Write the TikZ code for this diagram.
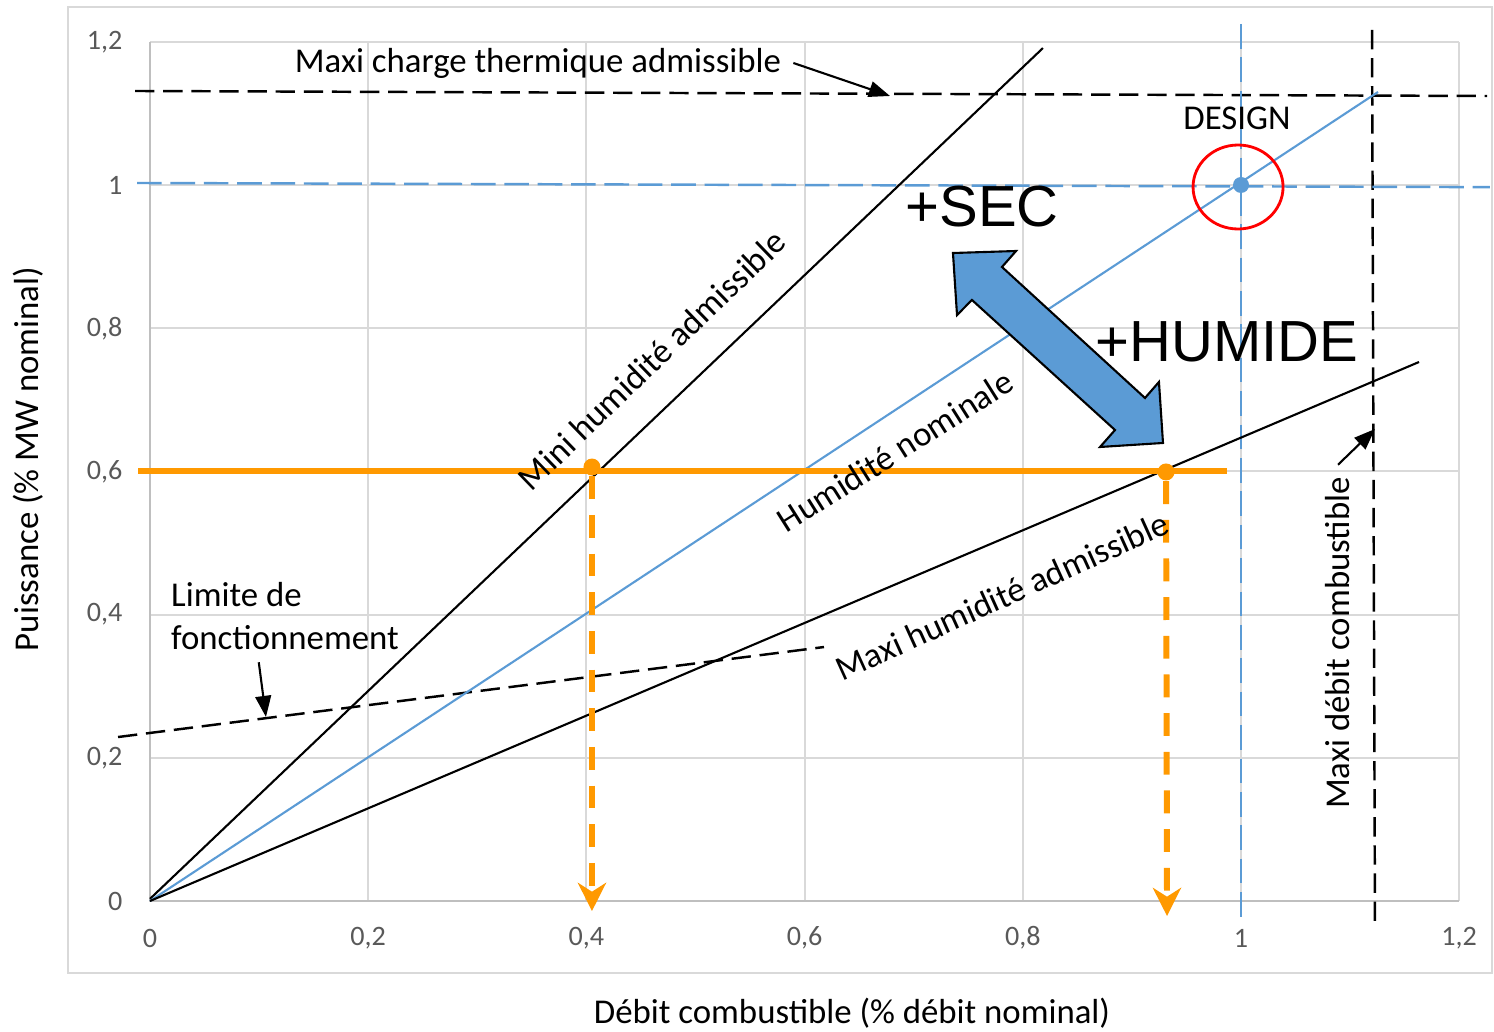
\documentclass[tikz,border=0pt]{standalone}
\usepackage{fontspec}
\setmainfont{Carlito}
\newfontfamily\arialfont{Liberation Sans}
\usetikzlibrary{arrows.meta}
\definecolor{chartblue}{HTML}{5B9BD5}
\definecolor{chartorange}{HTML}{FF9900}
\definecolor{gridgray}{HTML}{D9D9D9}
\definecolor{axisgray}{HTML}{BFBFBF}
\definecolor{tickgray}{HTML}{595959}
\begin{document}
\begin{tikzpicture}[x=10.91cm, y=7.16cm,
  grid line/.style={draw=gridgray, line width=0.6pt},
  tick label/.style={text=tickgray, font=\fontsize{8}{9}\selectfont, inner sep=0pt},
  annot/.style={font=\fontsize{9.9}{12.3}\selectfont},
  big label/.style={font=\arialfont\fontsize{16.5}{20}\selectfont},
  limit dash/.style={dash pattern=on 5.5pt off 2.5pt, line width=0.7pt},
  design dash/.style={chartblue, dash pattern=on 7pt off 2.5pt, line width=0.7pt},
  note arrow/.style={-{Triangle[length=6pt,width=4.5pt]}, line width=0.6pt},
  orange dot/.style={circle, fill=chartorange, inner sep=0pt, minimum size=0.17cm},
  drop arrow/.style={chartorange, line width=1.7pt, dash pattern=on 6.5pt off 4.5pt, -{Stealth[length=8pt,width=8pt,inset=2.5pt]}}]
  \useasboundingbox (-0.1375,-0.1816) rectangle (1.2319,1.2584);
  %\draw[red] (-0.1375,-0.1816) rectangle (1.2319,1.2584);

\draw[gridgray, line width=0.6pt] (-0.0752,-0.1006) rectangle (1.230,1.2486);
\foreach \i in {1,...,6} {
  \draw[grid line] (0.2*\i,0) -- (0.2*\i,1.2);
  \draw[grid line] (0,0.2*\i) -- (1.2,0.2*\i);
}
\draw[axisgray, line width=0.7pt] (0,1.2) -- (0,0) -- (1.2,0);
\foreach \i/\lab in {0/0,1/{0,2},2/{0,4},3/{0,6},4/{0,8},5/1,6/{1,2}} {
  \node[tick label, anchor=east] (ytick\i) at (-0.0247,0.2*\i) {\lab};
  \node[tick label] (xtick\i) at (0.2*\i,-0.0517) {\lab};
}
\node[annot, rotate=90] (ytitle) at (-0.1118,0.6173) {Puissance (\% MW nominal)};
\node[annot] (xtitle) at (0.6435,-0.1564) {Débit combustible (\% débit nominal)};

% limites
\coordinate (o) at (0,0);
\draw[limit dash] (-0.0137,1.1313) -- (1.2255,1.1243);
\draw[limit dash] (1.1201,1.2165) -- (1.1228,-0.0335);
\draw[limit dash] (-0.0293,0.229) -- (0.6178,0.3547);
\draw[design dash] (-0.0119,1.0028) -- (1.2282,0.997);
\draw[design dash] (1,1.2249) -- (1,-0.0223);
\draw[line width=0.6pt] (0,0.003) -- (0.8185,1.1913);
\draw[chartblue, line width=0.6pt] (o) -- (1.1256,1.1299);
\draw[line width=0.6pt] (o) -- (1.1632,0.7528);

\node[circle, fill=chartblue, inner sep=0pt, minimum size=0.16cm] (design) at (1,1) {};
\draw[red, line width=0.8pt] (0.9973,0.9972) ellipse (0.45cm and 0.42cm);
\node[annot] (designlab) at (0.9963,1.0936) {DESIGN};

\draw[chartorange, line width=1.7pt] (-0.011,0.6) -- (0.9872,0.6);
\node[orange dot] (dmin) at (0.4051,0.6061) {};
\node[orange dot] (dmax) at (0.9313,0.5992) {};
\coordinate (amin) at (0.4051,-0.014);
\coordinate (amax) at (0.9322,-0.021);
\draw[drop arrow] (dmin) -- (amin);
\draw[drop arrow] (dmax) -- (amax);

\filldraw[fill=chartblue, draw=black, line width=0.6pt] (0.7360,0.9050) -- (0.7938,0.9078) -- (0.7809,0.8855)
  -- (0.9120,0.7025) -- (0.9248,0.7249) -- (0.9285,0.6397) -- (0.8708,0.6341) -- (0.8845,0.6578)
  -- (0.7534,0.8394) -- (0.7397,0.8184) -- cycle;
\node[big label] (sec) at (0.7626,0.9693) {+SEC};
\node[big label] (humide) at (0.9872,0.7807) {+HUMIDE};

\node[annot] (charge) at (0.3556,1.1704) {Maxi charge thermique admissible};
\coordinate (chargept) at (0.6783,1.1243);
\draw[note arrow] (charge.east) -- (chargept);
\node[annot, rotate=44] (mini) at (0.460,0.7556) {Mini humidité admissible};
\node[annot, rotate=32.3] (nominal) at (0.6829,0.6285) {Humidité nominale};
\node[annot, rotate=24.4] (maxi) at (0.781,0.426) {Maxi humidité admissible};
\node[annot, rotate=90] (debit) at (1.0889,0.3603) {Maxi débit combustible};
\coordinate (debitpt) at (1.1228,0.6592);
\draw[note arrow] (debit.east) -- (debitpt);
\node[annot, align=left] (limite) at (0.1237,0.398) {Limite de\\fonctionnement};
\coordinate (limitept) at (0.1063,0.257);
\draw[note arrow] ([xshift=1.0cm]limite.south west) -- (limitept);
\end{tikzpicture}
\end{document}
